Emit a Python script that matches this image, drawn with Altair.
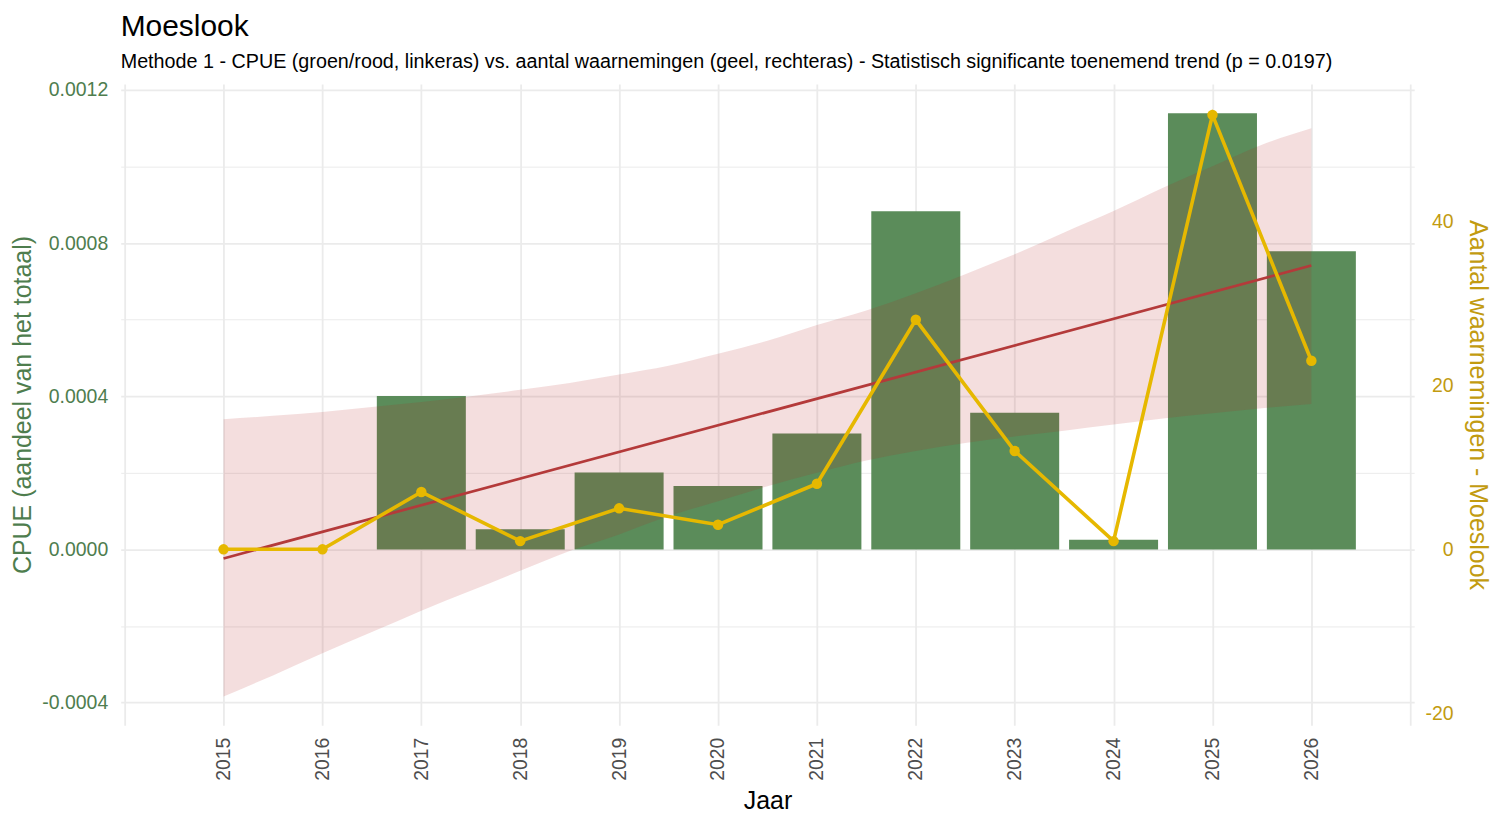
import altair as alt
import pandas as pd

# ---------------- data ----------------
years = [2015, 2016, 2017, 2018, 2019, 2020, 2021, 2022, 2023, 2024, 2025, 2026]
cpue = [0.0, 0.0, 0.000401, 0.000053, 0.000201, 0.000166, 0.000303, 0.000883,
        0.000357, 0.000025, 0.001139, 0.000779]
counts = [0, 0, 7, 1, 5, 3, 8, 28, 12, 1, 53, 23]

band_years = [2015, 2015.5, 2016, 2016.5, 2017, 2017.5, 2018, 2018.5, 2019, 2019.5,
              2020, 2020.5, 2021, 2021.5, 2022, 2022.5, 2023, 2023.5, 2024, 2024.5,
              2025, 2025.5, 2026]
band_upper = [0.000340, 0.000349, 0.000359, 0.000372, 0.000385, 0.000400, 0.000417,
              0.000435, 0.000457, 0.000480, 0.000511, 0.000545, 0.000586, 0.000624,
              0.000669, 0.000719, 0.000771, 0.000828, 0.000884, 0.000945, 0.001001,
              0.001057, 0.001100]
band_lower = [-0.000384, -0.000329, -0.000271, -0.000216, -0.000160, -0.000108,
              -0.000056, -0.000004, 0.000039, 0.000087, 0.000126, 0.000165, 0.000200,
              0.000232, 0.000257, 0.000278, 0.000295, 0.000310, 0.000326, 0.000342,
              0.000356, 0.000369, 0.000380]

x_ticks = [2014, 2014.5, 2015, 2015.5, 2016, 2016.5, 2017, 2017.5, 2018, 2018.5, 2019,
           2019.5, 2020, 2020.5, 2021, 2021.5, 2022, 2022.5, 2023, 2023.5, 2024, 2024.5,
           2025, 2025.5, 2026, 2026.5, 2027]
y_ticks = [-0.0004, -0.0002, 0.0, 0.0002, 0.0004, 0.0006, 0.0008, 0.001, 0.0012]
c_ticks = [-20, 0, 20, 40]

TITLE = "Moeslook"
SUBTITLE = ("Methode 1 - CPUE (groen/rood, linkeras) vs. aantal waarnemingen (geel, rechteras)"
            " - Statistisch significante toenemend trend (p = 0.0197)")

# ---------------- style ----------------
FONT = "Liberation Sans"
GREEN_BAR = "#5B8C5A"
GREEN_TXT = "#4E7D4E"
RED = "#B43A3A"
BAND = "#B22222"
YELLOW = "#E6B800"
GOLD_TXT = "#C29B10"
GRID = "#EBEBEB"

x_dom = [2013.96, 2027.04]
y_dom = [-0.000459, 0.001216]
c_dom = [-21.45, 56.78]

df = pd.DataFrame({"year": years, "cpue": cpue, "count": counts})
band = pd.DataFrame({"year": band_years, "lower": band_lower, "upper": band_upper})

xs = alt.Scale(domain=x_dom, nice=False, zero=False)
ys = alt.Scale(domain=y_dom, nice=False, zero=False)
cs = alt.Scale(domain=c_dom, nice=False, zero=False)

x_axis = alt.Axis(
    values=x_ticks, format="d",
    labelExpr="(datum.value % 1 === 0 && datum.value >= 2015 && datum.value <= 2026) ? datum.label : ''",
    labelAngle=-90, labelOverlap=False, labelFlush=False, labelPadding=12,
    labelFontSize=19.5, labelColor="#4D4D4D",
    title="Jaar", titleFontSize=25, titleColor="black", titleFontWeight="normal", titlePadding=8,
    grid=True, gridColor=GRID,
    gridWidth={"condition": {"test": "datum.value % 1 === 0", "value": 1.8}, "value": 1.0},
    ticks=False, domain=False,
)

y_axis = alt.Axis(
    values=y_ticks,
    labelExpr="abs(datum.value/0.0004 - round(datum.value/0.0004)) < 0.001 ? replace(format(datum.value, '.4f'), '\u2212', '-') : ''",
    labelOverlap=False, labelFlush=False, labelPadding=13,
    labelFontSize=19.5, labelColor=GREEN_TXT,
    title="CPUE (aandeel van het totaal)", titleFontSize=25, titleColor=GREEN_TXT,
    titleFontWeight="normal", titlePadding=6,
    grid=True, gridColor=GRID,
    gridWidth={"condition": {"test": "abs(datum.value/0.0004 - round(datum.value/0.0004)) < 0.001", "value": 1.8}, "value": 1.0},
    ticks=False, domain=False,
)

c_axis = alt.Axis(
    orient="right", values=c_ticks, format="d",
    labelExpr="replace(datum.label, '\u2212', '-')",
    labelAlign="right", labelPadding=39, labelOverlap=False, labelFlush=False,
    labelFontSize=19.5, labelColor=GOLD_TXT,
    title="Aantal waarnemingen - Moeslook", titleFontSize=25, titleColor=GOLD_TXT,
    titleFontWeight="normal", titlePadding=11,
    grid=False, ticks=False, domain=False,
)

bars = alt.Chart(df).transform_calculate(
    x0="datum.year - 0.45", x1="datum.year + 0.45"
).mark_bar(color=GREEN_BAR).encode(
    x=alt.X("x0:Q", scale=xs, axis=x_axis),
    x2="x1:Q",
    y=alt.Y("cpue:Q", scale=ys, axis=y_axis),
    y2=alt.datum(0),
)

ribbon = alt.Chart(band).mark_area(color=BAND, opacity=0.15, interpolate="monotone").encode(
    x=alt.X("year:Q", scale=xs, axis=x_axis),
    y=alt.Y("lower:Q", scale=ys, axis=y_axis),
    y2="upper:Q",
)

trend = alt.Chart(df).transform_regression(
    "year", "cpue", extent=[2015, 2026]
).mark_line(color=RED, strokeWidth=2.7).encode(
    x=alt.X("year:Q", scale=xs, axis=x_axis),
    y=alt.Y("cpue:Q", scale=ys, axis=y_axis),
)

yline = alt.Chart(df).mark_line(color=YELLOW, strokeWidth=3.6).encode(
    x=alt.X("year:Q", scale=xs, axis=x_axis),
    y=alt.Y("count:Q", scale=cs, axis=c_axis),
)
ypts = alt.Chart(df).mark_circle(color=YELLOW, size=110, opacity=1).encode(
    x=alt.X("year:Q", scale=xs, axis=x_axis),
    y=alt.Y("count:Q", scale=cs, axis=c_axis),
)

left = alt.layer(bars, ribbon, trend)
right = alt.layer(yline, ypts)

chart = alt.layer(left, right).resolve_scale(y="independent").properties(
    width=1297, height=643,
    autosize=alt.AutoSizeParams(type="none"),
    padding={"left": 113, "top": 75, "right": 78, "bottom": 90},
    title=alt.TitleParams(
        text=TITLE, subtitle=SUBTITLE, anchor="start", frame="group",
        font=FONT, fontSize=30, fontWeight="normal", color="black",
        subtitleFont=FONT, subtitleFontSize=19.8, subtitleColor="black",
        subtitlePadding=10, offset=8,
    ),
    background="white",
).configure_view(stroke=None).configure_axis(labelFont=FONT, titleFont=FONT)

chart.save("out.html", embed_options={"renderer": "svg", "actions": False})
